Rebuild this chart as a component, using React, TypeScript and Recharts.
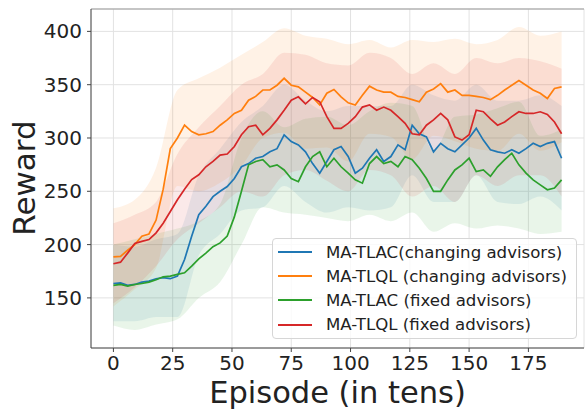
import { Area, CartesianGrid, ComposedChart, Label, Line, ReferenceLine, XAxis, YAxis } from 'recharts'

// mean reward, one value every 3 episodes (0..189)
const EPISODES = Array.from({ length: 64 }, (_, i) => i * 3)

const TLAC_CHANGING = [
  163.5, 164, 161.7, 162.6, 164.8, 165.7, 168, 169, 168, 170.4, 186, 207.8, 228, 236, 245, 250, 254.5, 262, 273,
  276, 281, 282.6, 287, 290, 303, 296.6, 293.5, 287, 276, 267, 278, 289, 292, 282.6, 267, 271.7, 281, 289, 278,
  282.6, 293.5, 289, 312, 304, 301, 287, 295, 290, 287, 293.5, 300, 309, 298, 289, 287, 285.7, 289, 285.7, 290, 295,
  292, 295, 296.6, 281,
]
const TLQL_CHANGING = [
  188.5, 189, 194.7, 200, 207.8, 210, 223, 252, 290, 300, 312, 306, 303, 304, 306, 312, 317, 323, 326, 335.5, 339,
  345, 345, 349.5, 356, 349.5, 348, 343, 338, 331, 342, 345.5, 338.6, 333, 331, 340, 348.6, 345, 343, 343, 339, 338,
  336, 334, 343, 346, 351, 343, 345, 340, 340, 339, 338, 336, 340, 345, 349.5, 354, 349.5, 345, 342, 337, 346.5, 348,
]
const TLAC_FIXED = [
  161.7, 162.6, 161, 162.6, 163.5, 164.8, 167, 169.8, 170.4, 172, 173.5, 179.8, 186.6, 192, 198, 201.6, 208, 226,
  250, 274.8, 278, 279.6, 273, 274.8, 270, 262, 259, 273, 282.6, 287, 273, 281, 273, 267, 260.7, 257.6, 276, 282.6,
  276, 278, 273, 282.6, 279.6, 271.7, 262, 250, 250, 260.7, 270, 274.8, 281, 268.5, 270, 264, 273, 279.6, 285.7,
  274.8, 267, 260.7, 256, 251.4, 253, 260.7,
]
const TLQL_FIXED = [
  182, 183.5, 192, 201, 203, 204.7, 211, 220, 231, 242, 252, 261, 265.5, 273, 278, 284, 285, 292, 303, 310.6, 312,
  303, 309, 317, 326, 335.5, 338.6, 332, 338, 334, 320, 309, 309, 313.7, 320, 329, 331, 326, 329, 326, 320, 313.7,
  304, 303, 312, 317, 323, 317, 301, 298, 303, 326, 324.6, 318, 312, 315, 320, 324.6, 323, 323, 324.6, 322, 315, 304,
]

// shaded spread, one value every 9 episodes
const BAND_EPISODES = Array.from({ length: 22 }, (_, i) => i * 9)

const TLAC_CHANGING_LOW = [128, 128, 132, 132, 190, 210, 232, 235, 255, 240, 230, 235, 232, 235, 265, 240, 240, 265, 240, 238, 245, 232]
const TLAC_CHANGING_HIGH = [200, 198, 205, 210, 265, 290, 315, 330, 350, 335, 325, 330, 330, 330, 350, 340, 335, 350, 335, 335, 340, 330]
const TLQL_CHANGING_LOW = [142, 158, 178, 255, 250, 258, 274, 300, 305, 290, 291, 278, 304, 301, 280, 302, 297, 290, 288, 304, 288, 296]
const TLQL_CHANGING_HIGH = [234, 242, 272, 345, 356, 366, 378, 390, 403, 396, 393, 388, 392, 385, 392, 390, 393, 388, 392, 404, 396, 400]
const TLAC_FIXED_LOW = [124, 120, 125, 130, 150, 165, 200, 235, 230, 228, 225, 222, 228, 222, 230, 212, 220, 215, 218, 215, 210, 212]
const TLAC_FIXED_HIGH = [200, 205, 210, 215, 222, 238, 300, 325, 310, 318, 320, 312, 325, 333, 330, 288, 320, 322, 328, 334, 302, 308]
const TLQL_FIXED_LOW = [145, 160, 180, 205, 220, 235, 250, 245, 265, 270, 260, 250, 270, 265, 245, 255, 240, 265, 255, 265, 265, 245]
const TLQL_FIXED_HIGH = [220, 228, 240, 285, 310, 330, 350, 360, 380, 378, 370, 368, 380, 375, 360, 370, 360, 375, 370, 375, 372, 365]

const X_TICKS = [0, 25, 50, 75, 100, 125, 150, 175]
const Y_TICKS = [150, 200, 250, 300, 350, 400]

const SERIES = [
  { key: 'tlacChanging', name: 'MA-TLAC(changing advisors)', color: '#1f77b4', mean: TLAC_CHANGING, low: TLAC_CHANGING_LOW, high: TLAC_CHANGING_HIGH },
  { key: 'tlqlChanging', name: 'MA-TLQL (changing advisors)', color: '#ff7f0e', mean: TLQL_CHANGING, low: TLQL_CHANGING_LOW, high: TLQL_CHANGING_HIGH },
  { key: 'tlacFixed', name: 'MA-TLAC (fixed advisors)', color: '#2ca02c', mean: TLAC_FIXED, low: TLAC_FIXED_LOW, high: TLAC_FIXED_HIGH },
  { key: 'tlqlFixed', name: 'MA-TLQL (fixed advisors)', color: '#d62728', mean: TLQL_FIXED, low: TLQL_FIXED_LOW, high: TLQL_FIXED_HIGH },
]

const lineData = EPISODES.map((ep, i) => {
  const row: Record<string, number> = { ep }
  SERIES.forEach((s) => (row[s.key] = s.mean[i]))
  return row
})

const bandData = BAND_EPISODES.map((ep, i) => {
  const row: Record<string, number | number[]> = { ep }
  SERIES.forEach((s) => (row[s.key] = [s.low[i], s.high[i]]))
  return row
})

const FONT = '"DejaVu Sans", sans-serif'
const TEXT = '#222'

function SeriesLegend() {
  return (
    <div
      style={{
        position: 'absolute',
        left: 272,
        top: 238,
        width: 305,
        height: 101,
        boxSizing: 'border-box',
        border: '1px solid #d6d6d6',
        borderRadius: 4,
        background: 'rgba(255,255,255,0.8)',
        padding: '1px 0 0 5px',
        fontFamily: FONT,
        fontSize: 16.6,
        color: TEXT,
      }}
    >
      {SERIES.map((s) => (
        <div key={s.key} style={{ display: 'flex', alignItems: 'center', height: 24.2 }}>
          <span style={{ width: 34, height: 2, background: s.color, marginRight: 14 }} />
          <span style={{ whiteSpace: 'nowrap' }}>{s.name}</span>
        </div>
      ))}
    </div>
  )
}

export default function App() {
  return (
    <div style={{ position: 'absolute', left: 0, top: 0, width: 585, height: 409, background: '#fff' }}>
      <ComposedChart width={585} height={409} margin={{ top: 9, right: 1, bottom: 0, left: 0 }}>
        <CartesianGrid stroke="#e2e2e2" strokeWidth={1} />
        <XAxis
          dataKey="ep"
          type="number"
          domain={[-9.45, 198.45]}
          ticks={X_TICKS}
          allowDataOverflow
          height={61}
          tickSize={4}
          tickMargin={4}
          stroke="#444"
          tick={{ fill: TEXT, fontSize: 20, fontFamily: FONT }}
        >
          <Label
            content={() => (
              <text x={337.5} y={403} textAnchor="middle" fontSize={30.5} fontFamily={FONT} fill={TEXT}>
                Episode (in tens)
              </text>
            )}
          />
        </XAxis>
        <YAxis
          type="number"
          domain={[103, 421]}
          ticks={Y_TICKS}
          allowDataOverflow
          width={91}
          tickSize={4}
          tickMargin={5}
          stroke="#444"
          tick={{ fill: TEXT, fontSize: 20, fontFamily: FONT }}
        >
          <Label
            content={() => (
              <text
                x={35}
                y={178}
                transform="rotate(-90 35 178)"
                textAnchor="middle"
                fontSize={31}
                fontFamily={FONT}
                fill={TEXT}
              >
                Reward
              </text>
            )}
          />
        </YAxis>
        <ReferenceLine y={421} stroke="#999" strokeWidth={1} />
        {SERIES.map((s) => (
          <Area
            key={`${s.key}-band`}
            data={bandData}
            dataKey={s.key}
            type="monotone"
            stroke="none"
            fill={s.color}
            fillOpacity={0.1}
            isAnimationActive={false}
            activeDot={false}
          />
        ))}
        {SERIES.map((s) => (
          <Line
            key={s.key}
            data={lineData}
            dataKey={s.key}
            type="linear"
            stroke={s.color}
            strokeWidth={1.7}
            dot={false}
            activeDot={false}
            isAnimationActive={false}
          />
        ))}
      </ComposedChart>
      <SeriesLegend />
    </div>
  )
}
